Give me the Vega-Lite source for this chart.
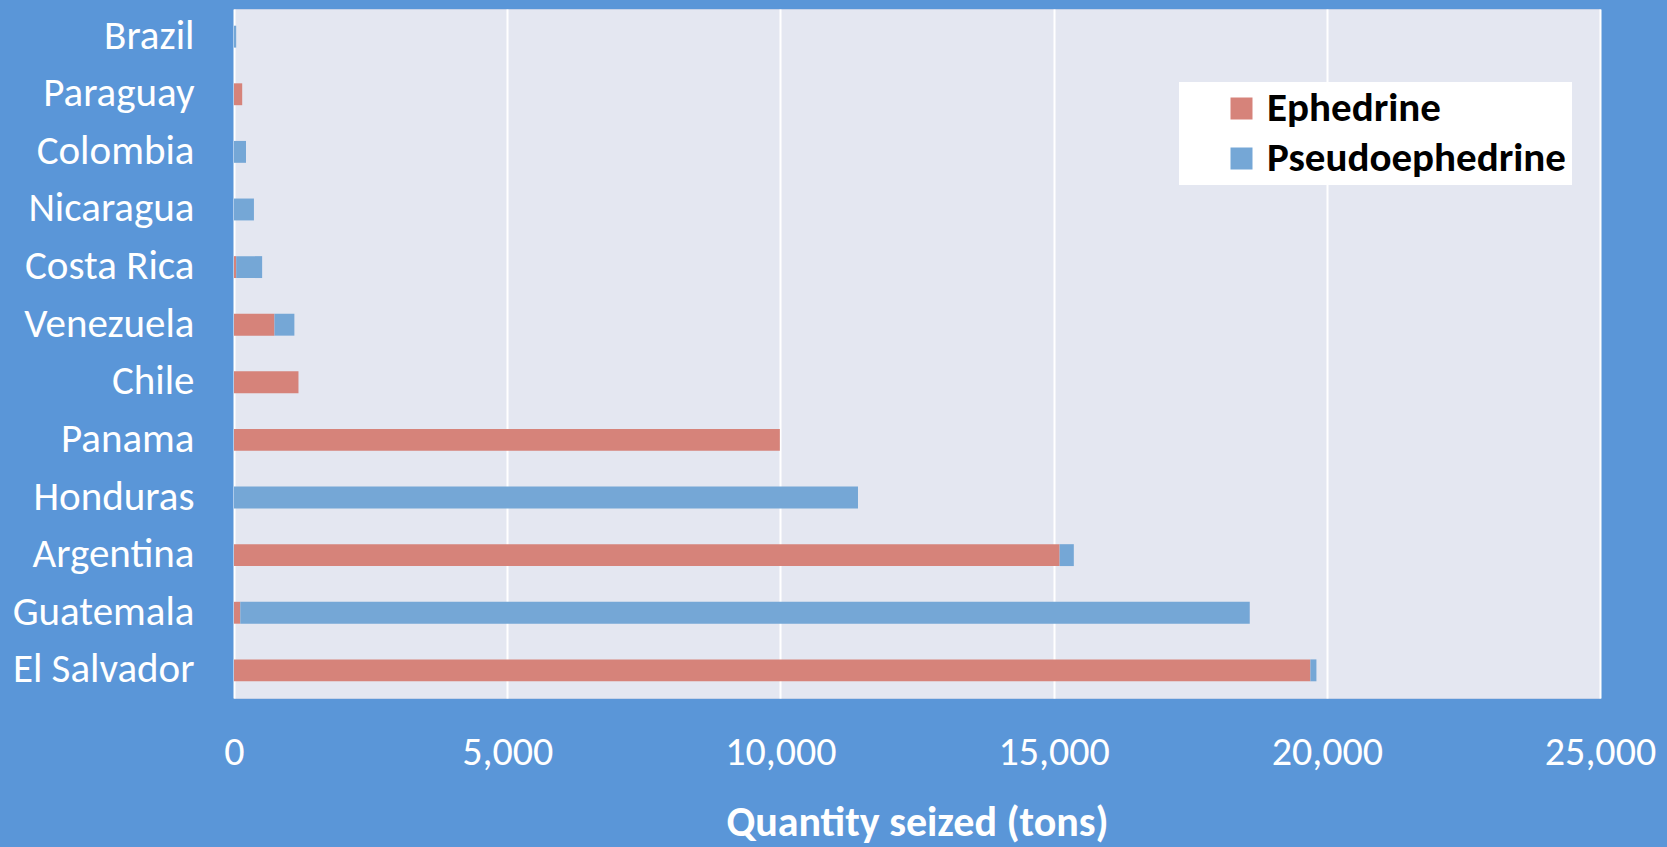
{
  "$schema": "https://vega.github.io/schema/vega-lite/v6.json",
  "width": 1366,
  "height": 689,
  "autosize": {"type": "none"},
  "padding": {"left": 234, "top": 9, "right": 67, "bottom": 149},
  "background": "#5a96d8",
  "config": {
    "font": "Carlito, Lato",
    "view": {"fill": "#e4e7f1", "stroke": "#c6d2e8", "strokeWidth": 1}
  },
  "data": {
    "values": [
      {"country": "Brazil", "drug": "Ephedrine", "ord": 1, "tons": 0},
      {"country": "Brazil", "drug": "Pseudoephedrine", "ord": 2, "tons": 40},
      {"country": "Paraguay", "drug": "Ephedrine", "ord": 1, "tons": 150},
      {"country": "Paraguay", "drug": "Pseudoephedrine", "ord": 2, "tons": 0},
      {"country": "Colombia", "drug": "Ephedrine", "ord": 1, "tons": 0},
      {"country": "Colombia", "drug": "Pseudoephedrine", "ord": 2, "tons": 220},
      {"country": "Nicaragua", "drug": "Ephedrine", "ord": 1, "tons": 0},
      {"country": "Nicaragua", "drug": "Pseudoephedrine", "ord": 2, "tons": 365},
      {"country": "Costa Rica", "drug": "Ephedrine", "ord": 1, "tons": 40},
      {"country": "Costa Rica", "drug": "Pseudoephedrine", "ord": 2, "tons": 475},
      {"country": "Venezuela", "drug": "Ephedrine", "ord": 1, "tons": 740},
      {"country": "Venezuela", "drug": "Pseudoephedrine", "ord": 2, "tons": 365},
      {"country": "Chile", "drug": "Ephedrine", "ord": 1, "tons": 1180},
      {"country": "Chile", "drug": "Pseudoephedrine", "ord": 2, "tons": 0},
      {"country": "Panama", "drug": "Ephedrine", "ord": 1, "tons": 9990},
      {"country": "Panama", "drug": "Pseudoephedrine", "ord": 2, "tons": 0},
      {"country": "Honduras", "drug": "Ephedrine", "ord": 1, "tons": 0},
      {"country": "Honduras", "drug": "Pseudoephedrine", "ord": 2, "tons": 11420},
      {"country": "Argentina", "drug": "Ephedrine", "ord": 1, "tons": 15110},
      {"country": "Argentina", "drug": "Pseudoephedrine", "ord": 2, "tons": 260},
      {"country": "Guatemala", "drug": "Ephedrine", "ord": 1, "tons": 115},
      {"country": "Guatemala", "drug": "Pseudoephedrine", "ord": 2, "tons": 18475},
      {"country": "El Salvador", "drug": "Ephedrine", "ord": 1, "tons": 19700},
      {"country": "El Salvador", "drug": "Pseudoephedrine", "ord": 2, "tons": 110}
    ]
  },
  "mark": {"type": "bar"},
  "encoding": {
    "y": {
      "field": "country",
      "type": "nominal",
      "sort": ["Brazil", "Paraguay", "Colombia", "Nicaragua", "Costa Rica", "Venezuela", "Chile", "Panama", "Honduras", "Argentina", "Guatemala", "El Salvador"],
      "scale": {"paddingInner": 0.62, "paddingOuter": 0.29},
      "axis": {
        "title": null,
        "ticks": false,
        "domain": false,
        "labelPadding": 40,
        "labelFontSize": 41,
        "labelLimit": 400,
        "labelColor": "#ffffff",
        "labelFont": "Carlito, Lato"
      }
    },
    "x": {
      "field": "tons",
      "type": "quantitative",
      "stack": "zero",
      "scale": {"domain": [0, 25000], "nice": false},
      "axis": {
        "title": "Quantity seized (tons)",
        "values": [0, 5000, 10000, 15000, 20000, 25000],
        "format": ",d",
        "ticks": false,
        "domain": false,
        "grid": true,
        "gridColor": "#ffffff",
        "gridWidth": 2,
        "labelPadding": 34,
        "labelFontSize": 40,
        "labelColor": "#ffffff",
        "labelFlush": false,
        "titleFontSize": 42,
        "titleFontWeight": "bold",
        "titleColor": "#ffffff",
        "titlePadding": 30
      }
    },
    "color": {
      "field": "drug",
      "type": "nominal",
      "scale": {"domain": ["Ephedrine", "Pseudoephedrine"], "range": ["#d6837a", "#75a7d6"]},
      "legend": {
        "title": null,
        "orient": "none",
        "legendX": 945,
        "legendY": 73,
        "fillColor": "#ffffff",
        "padding": 6,
        "symbolType": "square",
        "symbolSize": 484,
        "symbolOffset": 36,
        "symbolStrokeWidth": 0,
        "labelFontSize": 41,
        "labelFontWeight": "bold",
        "labelColor": "#000000",
        "labelOffset": 5,
        "rowPadding": 8,
        "labelLimit": 500
      }
    },
    "order": {"field": "ord", "type": "quantitative"}
  }
}
